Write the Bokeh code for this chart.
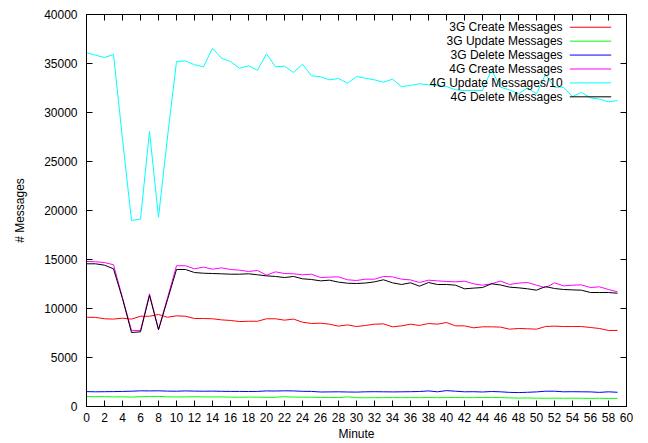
from bokeh.plotting import figure
from bokeh.models import Range1d, FixedTicker, LinearAxis, Label
from bokeh.embed import file_html
from bokeh.resources import INLINE

# ---------------- data ----------------
minutes = list(range(60))

create_3g = [9110, 9090, 8950, 8920, 9010, 8920, 9210, 9210, 9390, 9110,
             9250, 9210, 8980, 8980, 8950, 8840, 8780, 8670, 8700, 8700,
             8950, 8950, 8810, 8920, 8600, 8470, 8500, 8400, 8200, 8330,
             8160, 8270, 8400, 8430, 8130, 8230, 8400, 8270, 8470, 8400,
             8570, 8230, 8230, 8030, 8130, 8130, 8100, 7890, 7960, 7930,
             7890, 8160, 8200, 8160, 8160, 8160, 8060, 7960, 7760, 7760]

update_3g = [1020, 1000, 1010, 980, 990, 960, 1000, 1020, 1030, 990,
             970, 980, 1000, 980, 970, 980, 950, 940, 960, 950,
             930, 940, 1000, 960, 950, 940, 930, 920, 910, 980,
             900, 890, 900, 900, 910, 900, 910, 900, 920, 900,
             910, 920, 900, 910, 920, 920, 910, 880, 860, 870,
             850, 840, 850, 840, 850, 840, 830, 840, 820, 830]

delete_3g = [1520, 1500, 1510, 1520, 1540, 1560, 1600, 1590, 1600, 1570,
             1560, 1590, 1570, 1560, 1570, 1550, 1540, 1540, 1530, 1540,
             1590, 1580, 1600, 1590, 1550, 1540, 1480, 1490, 1500, 1480,
             1470, 1500, 1510, 1500, 1490, 1500, 1510, 1530, 1590, 1500,
             1620, 1560, 1500, 1510, 1480, 1530, 1500, 1440, 1420, 1450,
             1490, 1560, 1560, 1500, 1510, 1500, 1490, 1440, 1500, 1450]

create_4g = [14800, 14770, 14690, 14460, 11100, 7760, 7760, 11500, 7860, 11100,
             14360, 14360, 14050, 14220, 14010, 14150, 13980, 13910, 13780, 13880,
             13400, 13740, 13570, 13540, 13440, 13500, 13160, 13200, 13230, 12930,
             12860, 12990, 12990, 13270, 13230, 12990, 12920, 12650, 12890, 12820,
             12760, 12720, 12790, 12520, 12380, 12520, 12800, 12450, 12590, 12650,
             12380, 12110, 12620, 12310, 12380, 12410, 12140, 12210, 11940, 11700]

update_4g_div10 = [36100, 35850, 35610, 35920, 27300, 18980, 19120, 28060, 19320, 27500,
                   35200, 35270, 34870, 34660, 36560, 35540, 35200, 34520, 34760, 34320,
                   35990, 34660, 34730, 34080, 34930, 33740, 33640, 33330, 33470, 32990,
                   33670, 33500, 33330, 33090, 33400, 32650, 32760, 32930, 32820, 32760,
                   32650, 32310, 32240, 32240, 32240, 34360, 32580, 32310, 31900, 32520,
                   31900, 33880, 32580, 32580, 31630, 32040, 31500, 31360, 31090, 31220]

delete_4g = [14560, 14560, 14420, 14050, 11000, 7550, 7620, 11330, 7830, 10900,
             13980, 13980, 13670, 13600, 13570, 13540, 13500, 13500, 13540, 13440,
             13330, 13270, 13160, 13270, 13030, 12960, 12820, 12890, 12690, 12580,
             12550, 12600, 12720, 12930, 12620, 12450, 12620, 12280, 12650, 12450,
             12450, 12380, 12010, 12080, 12140, 12520, 12400, 12180, 12110, 12010,
             11870, 12240, 12040, 11940, 11900, 11870, 11630, 11630, 11630, 11560]

series_names = ["3G Create Messages", "3G Update Messages", "3G Delete Messages",
                "4G Create Messages", "4G Update Messages/10", "4G Delete Messages"]
series_values = [create_3g, update_3g, delete_3g, create_4g, update_4g_div10, delete_4g]
series_colors = ["#ff0000", "#00ff00", "#0000ff", "#ff00ff", "#00ffff", "#000000"]

x_ticks = list(range(0, 61, 2))
y_ticks = list(range(0, 40001, 5000))
x_label = "Minute"
y_label = "# Messages"

# ---------------- figure ----------------
FONT = "Liberation Sans"

p = figure(width=648, height=443, output_backend="svg", toolbar_location=None,
           x_range=Range1d(0, 60), y_range=Range1d(0, 40000),
           min_border_left=86, min_border_right=22, min_border_top=14,
           min_border_bottom=37, x_axis_location=None, y_axis_location=None)
p.grid.visible = False
p.outline_line_color = "black"
p.outline_line_width = 1
p.outline_line_alpha = 1.0
p.background_fill_color = "white"
p.border_fill_color = "white"


def make_axis(ticks, show_labels, label=None):
    ax = LinearAxis(ticker=FixedTicker(ticks=ticks))
    ax.major_tick_in = 6
    ax.major_tick_out = 0
    ax.minor_tick_line_color = None
    ax.axis_line_color = "black"
    ax.major_tick_line_color = "black"
    ax.major_label_text_font = FONT
    ax.major_label_text_color = "black"
    if show_labels:
        ax.major_label_text_font_size = "12px"
    else:
        ax.major_label_text_font_size = "0px"
        ax.major_label_text_color = None
        ax.major_label_standoff = 0
    if label is not None:
        ax.axis_label = label
        ax.axis_label_text_font = FONT
        ax.axis_label_text_font_size = "12px"
        ax.axis_label_text_font_style = "normal"
        ax.axis_label_text_color = "black"
    return ax


xb = make_axis(x_ticks, True, x_label)
xb.major_label_standoff = 6
xb.axis_label_standoff = 2
p.add_layout(xb, "below")

yl = make_axis(y_ticks, True, y_label)
yl.major_label_standoff = 9
yl.axis_label_standoff = 14
p.add_layout(yl, "left")

p.add_layout(make_axis(x_ticks, False), "above")
p.add_layout(make_axis(y_ticks, False), "right")

for vals, col in zip(series_values, series_colors):
    p.line(minutes, vals, line_color=col, line_width=1)

# ---------------- gnuplot-style key (text right, sample line after) ----------------
key_text_x = 52.9
key_line_x0 = 53.7
key_line_x1 = 58.3
key_top_y = 38700
key_step = 1420
for i, (name, col) in enumerate(zip(series_names, series_colors)):
    yy = key_top_y - i * key_step
    p.add_layout(Label(x=key_text_x, y=yy, text=name, text_align="right",
                       text_baseline="middle", text_font=FONT,
                       text_font_size="12px", text_color="black"))
    p.line([key_line_x0, key_line_x1], [yy, yy], line_color=col, line_width=1)

open("out.html", "w").write(file_html(p, INLINE))
